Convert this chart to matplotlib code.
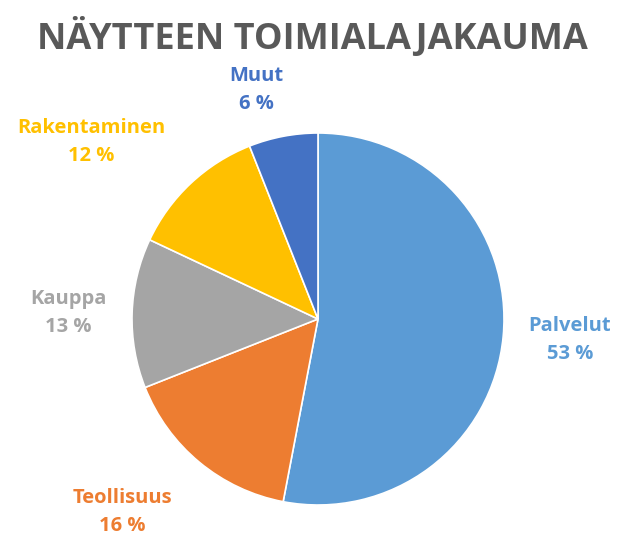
import matplotlib.pyplot as plt

# data
categories = ["Palvelut", "Teollisuus", "Kauppa", "Rakentaminen", "Muut"]
shares = [53, 16, 13, 12, 6]
colors = ["#5B9BD5", "#ED7D31", "#A5A5A5", "#FFC000", "#4472C4"]
title = "NÄYTTEEN TOIMIALAJAKAUMA"

# label anchor positions in pixel space (x, y from top)
label_pos = [(570, 340), (122, 512), (68, 313), (91, 142), (256, 90)]

W, H = 617, 537
fig = plt.figure(figsize=(W / 100, H / 100), dpi=100)
ax = fig.add_axes([0, 0, 1, 1])

ax.pie(shares, colors=colors, startangle=90, counterclock=False,
       center=(318, H - 319), radius=186,
       wedgeprops=dict(linewidth=1.2, edgecolor="white"))

ax.set_xlim(0, W)
ax.set_ylim(0, H)
ax.set_aspect("equal")
ax.axis("off")

for name, val, col, (x, y) in zip(categories, shares, colors, label_pos):
    ax.text(x, H - y, f"{name}\n{val} %", ha="center", va="center",
            fontsize=14.5, fontweight="bold", color=col, family="Open Sans",
            linespacing=1.55)

ax.text(W / 2 + 4, H - 38, title, ha="center", va="center", fontsize=26,
        fontweight="bold", color="#595959", family="Open Sans")

fig.savefig("out.png", dpi=100)
